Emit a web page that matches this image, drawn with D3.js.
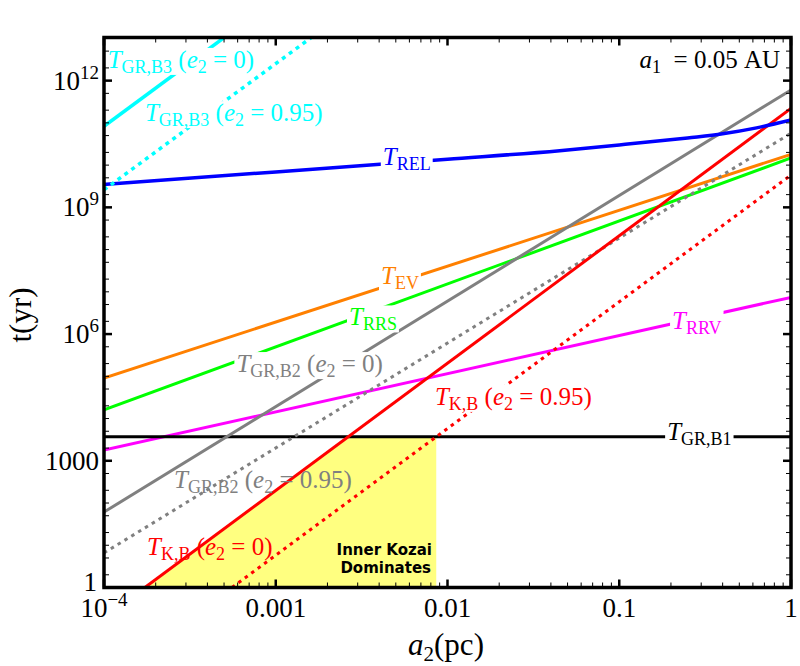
<!DOCTYPE html>
<html><head><meta charset="utf-8">
<script src="https://cdn.jsdelivr.net/npm/d3@7"></script>
<style>body{margin:0;background:#fff}</style>
</head><body>
<svg id="chart" width="800" height="666"></svg>
<script>
// ---------- data ----------
const xDomain = [1e-4, 1];
const yDomain = [1, 1.05e13];
const xTickValues = [1e-4, 1e-3, 1e-2, 1e-1, 1];
const xTickLabels = ["10^\u22124", "0.001", "0.01", "0.1", "1"];
const yTickValues = [1, 1e3, 1e6, 1e9, 1e12];
const yTickLabels = ["1", "1000", "10^6", "10^9", "10^12"];

const a2_GRB3_e0 = [1e-4, 6e-4];
const t_GRB3_e0 = [8.3e10, 1.8e13];
const a2_GRB3_e95 = [1e-4, 2e-3];
const t_GRB3_e95 = [2.6e9, 2.0e13];
const a2_REL = [1e-4, 1e-3, 1e-2, 0.045, 0.1, 0.25, 0.4, 0.63, 1];
const t_REL = [3.5e9, 6.9e9, 1.38e10, 2.2e10, 3.0e10, 4.4e10, 5.5e10, 7.6e10, 1.17e11];
const a2_EV = [1e-4, 1];
const t_EV = [9.1e4, 1.8e10];
const a2_RRS = [1e-4, 1];
const t_RRS = [1.6e4, 1.48e10];
const a2_GRB2_e0 = [1e-4, 1];
const t_GRB2_e0 = [61, 6.0e11];
const a2_GRB2_e95 = [1e-4, 1];
const t_GRB2_e95 = [6.6, 5.7e10];
const a2_KB_e0 = [1.73e-4, 1];
const t_KB_e0 = [1, 2.2e11];
const a2_KB_e95 = [5.56e-4, 1];
const t_KB_e95 = [1, 5.8e9];
const a2_RRV = [1e-4, 1];
const t_RRV = [1.8e3, 7.4e6];
const a2_GRB1 = [1e-4, 1];
const t_GRB1 = [3.7e3, 3.7e3];
const kozaiEdgeA2 = 8.6e-3;

// ---------- layout ----------
const W = 800, H = 666;
const plot = {left: 104, right: 791, top: 37.5, bottom: 587.5};
const serif = "'Liberation Serif', 'Times New Roman', serif";

const svg = d3.select("#chart");
svg.append("rect").attr("width", W).attr("height", H).attr("fill", "#fff");

const x = d3.scaleLog().domain(xDomain).range([plot.left, plot.right]);
const y = d3.scaleLog().domain(yDomain).range([plot.bottom, plot.top]);

svg.append("defs").append("clipPath").attr("id", "clip")
  .append("rect").attr("x", plot.left).attr("y", plot.top)
  .attr("width", plot.right - plot.left).attr("height", plot.bottom - plot.top);

const zip = (a, b) => a.map((v, i) => [v, b[i]]);

// yellow region: below T_K,B(e2=0) and T_GR,B1, left of kozai edge
function logInterpX(pts, tv) {
  const [p0, p1] = pts;
  const f = (Math.log10(tv) - Math.log10(p0[1])) / (Math.log10(p1[1]) - Math.log10(p0[1]));
  return Math.pow(10, Math.log10(p0[0]) + f * (Math.log10(p1[0]) - Math.log10(p0[0])));
}
const kb0 = zip(a2_KB_e0, t_KB_e0);
const crossA2 = logInterpX(kb0, t_GRB1[0]);
const region = [[a2_KB_e0[0], yDomain[0]], [crossA2, t_GRB1[0]], [kozaiEdgeA2, t_GRB1[0]], [kozaiEdgeA2, yDomain[0]]];
const gPlot = svg.append("g").attr("clip-path", "url(#clip)");
gPlot.append("path")
  .attr("d", d3.line().x(d => x(d[0])).y(d => y(d[1]))(region) + "Z")
  .attr("fill", "#FFFF80");

// lines
const series = [
  {a2: a2_RRV, t: t_RRV, color: "#FF00FF"},
  {a2: a2_GRB1, t: t_GRB1, color: "#000000"},
  {a2: a2_EV, t: t_EV, color: "#FF8000"},
  {a2: a2_RRS, t: t_RRS, color: "#00FF00"},
  {a2: a2_GRB2_e0, t: t_GRB2_e0, color: "#808080"},
  {a2: a2_GRB2_e95, t: t_GRB2_e95, color: "#808080", dash: "3.5 4.5"},
  {a2: a2_KB_e0, t: t_KB_e0, color: "#FF0000"},
  {a2: a2_KB_e95, t: t_KB_e95, color: "#FF0000", dash: "3.5 4.5"},
  {a2: a2_REL, t: t_REL, color: "#0000FF", curve: true, width: 3.5},
  {a2: a2_GRB3_e0, t: t_GRB3_e0, color: "#00FFFF", width: 3.5},
  {a2: a2_GRB3_e95, t: t_GRB3_e95, color: "#00FFFF", dash: "4 4.5", width: 3.5}
];
series.forEach(s => {
  const gen = d3.line().x(d => x(d[0])).y(d => y(d[1]));
  if (s.curve) gen.curve(d3.curveMonotoneX);
  gPlot.append("path").attr("d", gen(zip(s.a2, s.t)))
    .attr("fill", "none").attr("stroke", s.color)
    .attr("stroke-width", s.width || 3)
    .attr("stroke-dasharray", s.dash || null);
});

// curve labels
const curveLabels = [
  {sub: "GR,B3", e: "0", a2: 1.05e-4, t: 2.0e12, color: "#00FFFF", bg: true},
  {sub: "GR,B3", e: "0.95", a2: 1.73e-4, t: 1.1e11, color: "#00FFFF", bg: true},
  {sub: "REL", a2: 4.2e-3, t: 1.0e10, color: "#0000FF", bg: true},
  {sub: "EV", a2: 4.1e-3, t: 1.5e7, color: "#FF8000", bg: true},
  {sub: "RRS", a2: 2.67e-3, t: 1.6e6, color: "#00FF00", bg: true},
  {sub: "GR,B2", e: "0", a2: 5.9e-4, t: 1.26e5, color: "#808080", bg: true},
  {sub: "RRV", a2: 0.203, t: 1.3e6, color: "#FF00FF", bg: true},
  {sub: "K,B", e: "0.95", a2: 8.45e-3, t: 2.1e4, color: "#FF0000", bg: true},
  {sub: "GR,B1", a2: 0.19, t: 3.1e3, color: "#000000", bg: true},
  {sub: "GR,B2", e: "0.95", a2: 2.56e-4, t: 226, color: "#808080", bg: false},
  {sub: "K,B", e: "0", a2: 1.78e-4, t: 5.9, color: "#FF0000", bg: false}
];
const gLab = svg.append("g");
curveLabels.forEach(L => {
  const g = gLab.append("g");
  const rect = g.append("rect").attr("fill", "#fff");
  const txt = g.append("text").attr("x", x(L.a2)).attr("y", y(L.t))
    .attr("fill", L.color).attr("font-family", serif).attr("font-size", 25);
  txt.append("tspan").attr("font-style", "italic").text("T");
  txt.append("tspan").attr("font-size", 18).attr("dy", 5).text(L.sub);
  if (L.e != null) {
    txt.append("tspan").attr("dy", -5).text("\u00A0(");
    txt.append("tspan").attr("font-style", "italic").text("e");
    txt.append("tspan").attr("font-size", 18).attr("dy", 5).text("2");
    txt.append("tspan").attr("dy", -5).text("\u00A0=\u00A0" + L.e + ")");
  }
  if (L.bg) {
    const b = txt.node().getBBox();
    rect.attr("x", b.x - 2).attr("y", b.y + 2).attr("width", b.width + 4).attr("height", b.height - 4);
  } else rect.remove();
});

// Inner Kozai Dominates
const kzFont = "'DejaVu Sans', Verdana, sans-serif";
[["Inner Kozai", 432, 555], ["Dominates", 431, 573]].forEach(([s, tx, ty]) => {
  svg.append("text").attr("x", tx).attr("y", ty).attr("text-anchor", "end")
    .attr("font-family", kzFont).attr("font-weight", 700).attr("font-size", 15)
    .attr("fill", "#000").text(s);
});

// ticks
const gT = svg.append("g").attr("stroke", "#000");
const xMinor = [];
for (let e = -4; e < 0; e++) for (let m = 2; m <= 9; m++) xMinor.push(m * Math.pow(10, e));
xMinor.forEach(v => {
  const px = x(v);
  gT.append("line").attr("x1", px).attr("x2", px).attr("y1", plot.bottom).attr("y2", plot.bottom - 5).attr("stroke-width", 1);
  gT.append("line").attr("x1", px).attr("x2", px).attr("y1", plot.top).attr("y2", plot.top + 5).attr("stroke-width", 1);
});
xTickValues.forEach(v => {
  const px = x(v);
  gT.append("line").attr("x1", px).attr("x2", px).attr("y1", plot.bottom).attr("y2", plot.bottom - 8).attr("stroke-width", 2.5);
  gT.append("line").attr("x1", px).attr("x2", px).attr("y1", plot.top).attr("y2", plot.top + 8).attr("stroke-width", 2.5);
});
const yMinor = [];
for (let e = 0; e <= 13; e++) [1, 2, 5].forEach(m => { const v = m * Math.pow(10, e); if (v <= yDomain[1] && !(m === 1 && e % 3 === 0)) yMinor.push(v); });
yMinor.forEach(v => {
  const py = y(v);
  gT.append("line").attr("x1", plot.left).attr("x2", plot.left + 5).attr("y1", py).attr("y2", py).attr("stroke-width", 1);
  gT.append("line").attr("x1", plot.right).attr("x2", plot.right - 5).attr("y1", py).attr("y2", py).attr("stroke-width", 1);
});
yTickValues.forEach(v => {
  const py = y(v);
  gT.append("line").attr("x1", plot.left).attr("x2", plot.left + 8).attr("y1", py).attr("y2", py).attr("stroke-width", 2.5);
  gT.append("line").attr("x1", plot.right).attr("x2", plot.right - 8).attr("y1", py).attr("y2", py).attr("stroke-width", 2.5);
});

// frame
svg.append("rect").attr("x", plot.left).attr("y", plot.top)
  .attr("width", plot.right - plot.left).attr("height", plot.bottom - plot.top)
  .attr("fill", "none").attr("stroke", "#000").attr("stroke-width", 3.5);

// tick labels
function tickText(sel, label) {
  const parts = label.split("^");
  sel.append("tspan").text(parts[0]);
  if (parts[1]) sel.append("tspan").attr("font-size", 19).attr("dy", -11).text(parts[1]);
}
xTickValues.forEach((v, i) => {
  const t = svg.append("text").attr("x", x(v)).attr("y", 617).attr("text-anchor", "middle")
    .attr("font-family", serif).attr("font-size", 27).attr("fill", "#000");
  tickText(t, xTickLabels[i]);
});
yTickValues.forEach((v, i) => {
  const t = svg.append("text").attr("x", i === 0 ? 97 : 99).attr("y", Math.min(y(v) + 9, 591)).attr("text-anchor", "end")
    .attr("font-family", serif).attr("font-size", 27).attr("fill", "#000");
  tickText(t, yTickLabels[i]);
});

// axis titles
const xt = svg.append("text").attr("x", 446).attr("y", 655).attr("text-anchor", "middle")
  .attr("font-family", serif).attr("font-size", 31).attr("fill", "#000");
xt.append("tspan").attr("font-style", "italic").text("a");
xt.append("tspan").attr("font-size", 21).attr("dy", 6).text("2");
xt.append("tspan").attr("dy", -6).text("(pc)");

svg.append("text").attr("transform", "translate(31,315) rotate(-90)").attr("text-anchor", "middle")
  .attr("font-family", serif).attr("font-size", 31).attr("fill", "#000").text("t(yr)");

// a1 annotation
const an = svg.append("text").attr("x", 780).attr("y", 68).attr("text-anchor", "end")
  .attr("font-family", serif).attr("font-size", 25).attr("fill", "#000");
an.append("tspan").attr("font-style", "italic").text("a");
an.append("tspan").attr("font-size", 18).attr("dy", 5).text("1");
an.append("tspan").attr("dy", -5).text("\u00A0\u00A0=\u00A00.05\u00A0AU");
</script>
</body></html>
